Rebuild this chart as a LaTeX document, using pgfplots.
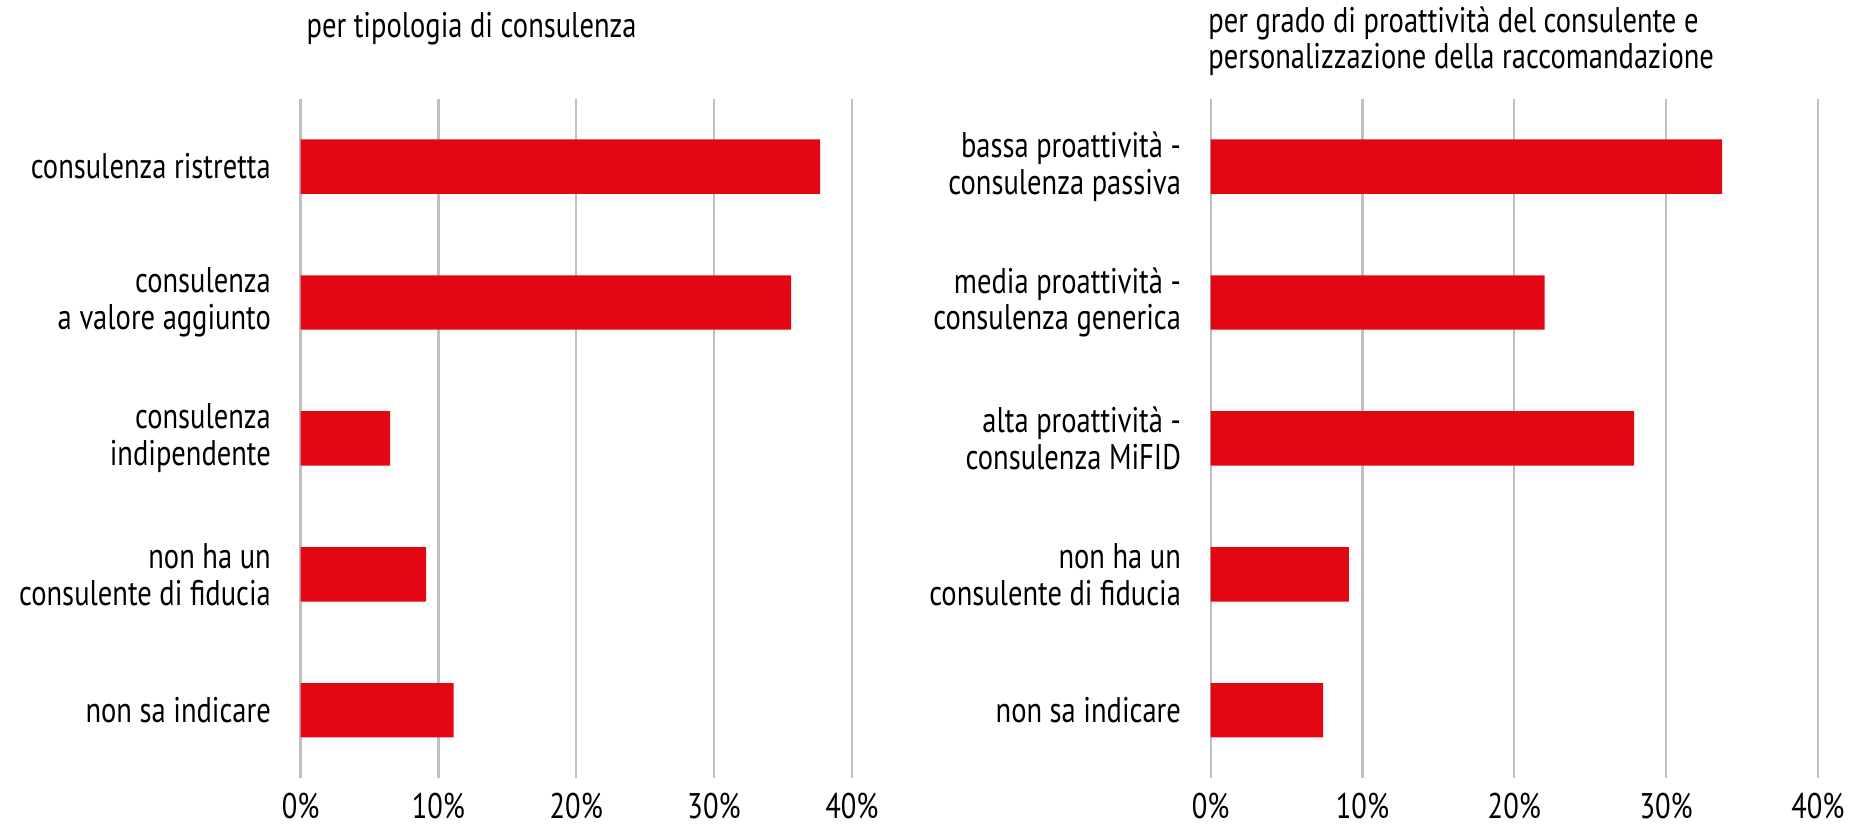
\documentclass[border=0pt]{standalone}
\usepackage{fontspec}
\setmainfont[FakeStretch=0.8]{PT Sans}
\usepackage{pgfplots}
\pgfplotsset{compat=1.18}

\definecolor{barred}{HTML}{E30613}
\definecolor{gridgray}{HTML}{C0C0C0}

\pgfplotsset{
  panel/.style={
    xbar, y dir=reverse,
    scale only axis, height=286pt,
    xmin=0, xmax=40, ymin=-0.5, ymax=4.5,
    xtick={0,10,20,30,40},
    xticklabels={0\%,10\%,20\%,30\%,40\%},
    ytick={0,1,2,3,4},
    axis line style={draw=none},
    major tick length=0pt,
    xmajorgrids, major grid style={gridgray, line width=1pt},
    bar width=0.4,
    tick label style={font=\fontsize{15}{15.5}\selectfont},
    yticklabel style={align=right, xshift=-9pt},
    xticklabel style={yshift=-6pt, inner sep=0pt},
    title style={at={(0,1)}, anchor=north west, yshift=36pt, align=left,
      font=\fontsize{15}{15}\selectfont},
  }
}

\begin{document}
\begin{tikzpicture}
  % per tipologia di consulenza
  \begin{axis}[panel, name=left, width=232pt,
      title={per tipologia di consulenza}, title style={xshift=-1pt, yshift=-2pt},
      yticklabels={consulenza ristretta,
        consulenza\\a valore aggiunto,
        consulenza\\indipendente,
        non ha un\\consulente di fiducia,
        non sa indicare}]
    \addplot[fill=barred, draw=none] coordinates {
      (37.7,0) (35.6,1) (6.5,2) (9.1,3) (11.1,4)
    };
  \end{axis}

  % per grado di proattivita
  \begin{axis}[panel, at={(383pt,0)}, width=255.5pt,
      title={per grado di proattività del consulente e\\personalizzazione della raccomandazione},
      title style={xshift=-4.5pt},
      yticklabels={bassa proattività -\\consulenza passiva,
        media proattività -\\consulenza generica,
        alta proattività -\\consulenza MiFID,
        non ha un\\consulente di fiducia,
        non sa indicare}]
    \addplot[fill=barred, draw=none] coordinates {
      (33.7,0) (22.0,1) (27.9,2) (9.1,3) (7.4,4)
    };
  \end{axis}

  \pgfresetboundingbox
  \path[use as bounding box] (-126.5pt,-22.5pt) rectangle (657.5pt,327.5pt);
\end{tikzpicture}
\end{document}
